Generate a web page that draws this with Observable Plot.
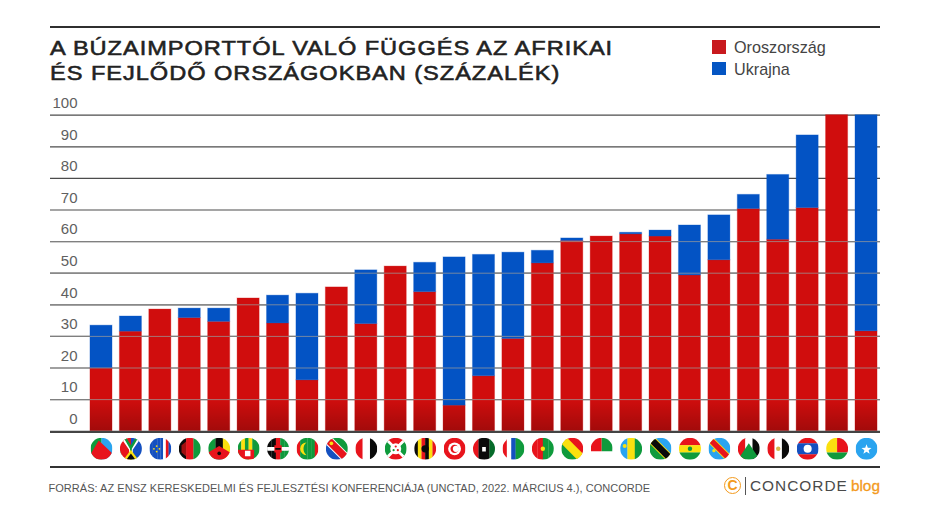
<!DOCTYPE html>
<html lang="hu">
<head>
<meta charset="utf-8">
<title>A búzaimporttól való függés</title>
<script src="https://cdn.jsdelivr.net/npm/d3@7"></script>
<script src="https://cdn.jsdelivr.net/npm/@observablehq/plot@0.6"></script>
<style>
  html,body{margin:0;background:#fff;overflow:hidden;}
  body{font-family:"Liberation Sans",Arial,sans-serif;}
  #page{position:relative;width:930px;height:510px;}
  #head{position:absolute;left:50px;top:26px;width:830px;height:64px;border-top:2.4px solid #2f2f2f;box-sizing:border-box;}
  #title{position:absolute;left:0;top:8px;margin:0;font-size:20.4px;line-height:24.7px;font-weight:400;-webkit-text-stroke:.55px #222;color:#222;letter-spacing:.82px;white-space:nowrap;transform:scaleX(1.158);transform-origin:left top;}
  .leg{position:absolute;left:661.5px;font-size:16.2px;color:#444;line-height:18px;white-space:nowrap;padding-left:22.5px;}
  .leg i{position:absolute;left:0;top:2px;width:14px;height:13.5px;}
  #chart{position:absolute;left:0;top:90px;}
  #chart svg{display:block;}
  #foot{position:absolute;left:50px;top:466px;width:830px;height:40px;border-top:2.2px solid #333;box-sizing:border-box;}
  #src{position:absolute;left:-1.5px;top:12.5px;font-size:11px;line-height:14px;letter-spacing:.03px;color:#555;white-space:nowrap;}
  #logo{position:absolute;right:0;top:8px;height:20px;line-height:20px;white-space:nowrap;}
  #mark{position:absolute;left:-156px;top:1px;width:15px;height:15px;border:1.8px solid #f39a1d;border-radius:50%;color:#f39a1d;font-size:14px;font-weight:700;line-height:15px;text-align:center;}
  #bar{position:absolute;left:-135px;top:1px;width:1px;height:18px;background:#555;}
  #brand{position:absolute;left:-130px;top:0;font-size:15.4px;color:#4a4a4a;letter-spacing:1px;}
  #blog{position:absolute;right:0;top:0;font-size:15.4px;color:#f39a1d;-webkit-text-stroke:.3px #f39a1d;}
</style>
</head>
<body>
<div id="page">
  <div id="head">
    <h1 id="title">A BÚZAIMPORTTÓL VALÓ FÜGGÉS AZ AFRIKAI<br>ÉS FEJLŐDŐ ORSZÁGOKBAN (SZÁZALÉK)</h1>
  </div>
  <div id="chart"></div>
  <div id="foot">
    <div id="src">FORRÁS: AZ ENSZ KERESKEDELMI ÉS FEJLESZTÉSI KONFERENCIÁJA (UNCTAD, 2022. MÁRCIUS 4.), CONCORDE</div>
    <div id="logo"><span id="mark">C</span><span id="bar"></span><span id="brand">CONCORDE</span><span id="blog">blog</span></div>
  </div>
</div>
<script>
const countries = ["Eritrea","Dél-Afrika","Zöld-foki-szk.","Malawi","Kelet-Timor","Benin","Kenya","Mauritánia","Namíbia","Jemen","Burundi","Uganda","Tunézia","Líbia","Gambia","Mozambik","Kongó","Madagaszkár","Ruanda","Tanzánia","Szenegál","KDK","Szudán","Egyiptom","Laosz","Bissau-Guinea","Szomália"];
const russia  = [19.9,31.5,38.5,35.8,34.6,42.0,34.1,16.1,45.5,33.9,52.1,44.0,8.1,17.4,29.2,53.1,60.2,61.6,62.3,61.6,49.3,54.1,70.3,60.6,70.6,100,31.6];
const ukraine = [13.5,4.8,0,3.0,4.2,0,8.8,27.4,0,17.0,0,9.3,46.9,38.4,27.3,4.0,0.8,0,0.5,1.9,15.8,14.2,4.5,20.5,23.0,0,68.4];
const yTicks = [0,10,20,30,40,50,60,70,80,90,100];
const seriesNames = ["Oroszország","Ukrajna"];
const seriesColors = ["#d00d0d","#0353c4"];

// Flag artwork, one fragment per country, on a 24x24 canvas.
const R="#e8141c",G="#0f9a3c",B="#1450c0",Y="#fbe00f",K="#0a0a0a",W="#ffffff",L="#2aa4ef";
const v=(...c)=>c.map((f,i)=>`<rect x="${i*24/c.length}" y="0" width="${24/c.length+.2}" height="24" fill="${f}"/>`).join("");
const h=(...c)=>c.map((f,i)=>`<rect x="0" y="${i*24/c.length}" width="24" height="${24/c.length+.2}" fill="${f}"/>`).join("");
const path=(d,f)=>`<path d="${d}" fill="${f}"/>`;
const disc=(x,y,r,f)=>`<circle cx="${x}" cy="${y}" r="${r}" fill="${f}"/>`;
const diag=(a,b,c,w,ws)=>path("M0 0H24V24Z",c)+path("M0 0V24H24Z",a)+`<path d="M-2 -2L26 26" stroke="${ws||b}" stroke-width="${w+2}"/><path d="M-2 -2L26 26" stroke="${b}" stroke-width="${w}"/>`;
const flagArt = [
  v(G,L)+path("M9 3L24 17V24H0V18Z",R),
  v(R,B)+path("M5 0L12 10L19 0H23L14 13V24H10V13L1 0Z",W)+path("M7 0L12 8L17 0H20L13 12V24H11V12L4 0Z",G)+path("M4 24L12 13L20 24Z",Y)+path("M7 24L12 17L17 24Z",K)+path("M0 14L4 24H0Z",G),
  v(B,B,B,B,B,W,R,B)+disc(8,9,1,Y)+disc(11,12,1,Y)+disc(8,15,1,Y)+disc(5,12,1,Y),
  v(K,R,G)+path("M3 8L8 4V20L3 16Z","#a01010"),
  v(G,K,Y)+path("M0 24V16L12 9L24 16V24Z",R)+disc(12,17,2,K),
  v(G,Y,G,Y,G,G)+path("M0 13H18V24H0Z",R)+path("M8 14H14V20H8Z",W),
  v(K,K,R,G,G)+path("M0 10H24V14H0Z",W)+path("M8 8H16V16H8Z",R)+path("M9 11H15V13H9Z",K),
  v(R,G,G,G,G,R)+path("M11 5A7 7 0 1 0 11 19A9 9 0 0 1 11 5Z",Y),
  diag(B,R,G,8,W)+disc(6,6,2,Y),
  v(R,W,K),
  path("M0 0H24L0 24H24Z",R)+path("M0 0L12 12L0 24Z",G)+path("M24 0L12 12L24 24Z",G)+`<path d="M0 0L24 24M24 0L0 24" stroke="${W}" stroke-width="3"/>`+disc(12,12,6,W)+disc(12,9.5,1.2,R)+disc(9.7,13.5,1.2,G)+disc(14.3,13.5,1.2,R),
  v(K,Y,R,K,Y,R)+disc(12,12,4,K),
  h(R)+disc(12,12,7,W)+disc(12,12,4.5,R)+disc(13.5,12,3.4,W),
  v(R,K,K,"#066b2a")+path("M10 10H14V15H10Z",W),
  v(R,W,B,G,G),
  v(R,R,G,G)+disc(12,12,2.4,Y),
  diag(G,Y,R,7),
  path("M0 0H12V15H0Z",R)+path("M12 0H24V15H12Z",G)+path("M0 15H24V24H0Z",W),
  v(L,Y,G)+disc(5,9,2.2,Y),
  diag(G,K,L,7,Y),
  h(R,Y,G)+disc(12,12,2.4,G),
  diag(L,R,L,6,Y)+disc(6,14,1.8,Y),
  path("M0 0H9V24H0Z",R)+path("M8 0H16V24H8Z",W)+path("M16 0H24V24H16Z",K)+path("M0 24L12 6L24 24Z",G),
  v(R,W,K)+disc(12,12,2.4,"#d8b84a"),
  h(R,B,B,R)+disc(12,12,4.4,W),
  path("M0 0H12V16H0Z",Y)+path("M12 0H24V16H12Z",R)+path("M0 16H24V24H0Z",G),
  h(L)+path("M12 7L13.4 10.8L17.5 11L14.3 13.5L15.4 17.4L12 15.2L8.6 17.4L9.7 13.5L6.5 11L10.6 10.8Z",W)
];
const flagSrc = art => "data:image/svg+xml," + encodeURIComponent(`<svg xmlns="http://www.w3.org/2000/svg" width="96" height="96" viewBox="0 0 24 24">${art}</svg>`);

const rows = countries.flatMap((c,i)=>[
  {country:c, series:seriesNames[0], value:russia[i]},
  {country:c, series:seriesNames[1], value:ukraine[i]}
]);
const flagRows = countries.map((c,i)=>({country:c, src:flagSrc(flagArt[i])}));

const shade = () => {
  const defs = d3.create("svg:defs");
  const g = defs.append("linearGradient").attr("id","shade").attr("x1",0).attr("x2",0).attr("y1",0).attr("y2",1);
  g.append("stop").attr("offset",0).attr("stop-color","#000").attr("stop-opacity",0);
  g.append("stop").attr("offset",1).attr("stop-color","#000").attr("stop-opacity",.22);
  return defs.node();
};

const chart = Plot.plot({
  width: 930, height: 380,
  marginTop: 24.7, marginBottom: 39.3, marginLeft: 50, marginRight: 50,
  style: {background:"#fff", fontFamily:'"Liberation Sans",Arial,sans-serif'},
  x: {domain:countries, range:[82.6,884.4], padding:.25, round:false, axis:null},
  y: {domain:[0,100], axis:null},
  color: {domain:seriesNames, range:seriesColors},
  marks: [
    shade,
    Plot.ruleY(yTicks.filter(d=>d>0), {stroke:"#4c4c4c", strokeWidth:1.2}),
    Plot.barY(rows, {x:"country", y:"value", fill:"series", order:seriesNames, stroke:"series", strokeOpacity:.3, strokeWidth:1}),
    Plot.barY(countries, {x:d=>d, y1:0, y2:10, fill:"url(#shade)"}),
    Plot.ruleY(yTicks.filter(d=>d>0 && d<=60), {stroke:"#9a9a9a", strokeOpacity:.75, strokeWidth:1}),
    Plot.axisY(yTicks, {anchor:"left", label:null, tickSize:0, tickPadding:-27, dy:-12, fontSize:15, fill:"#606060", tickFormat:d=>d}),
    Plot.ruleY([0], {stroke:"#444", strokeWidth:2.2, dy:.6}),
    Plot.image(flagRows, {x:"country", frameAnchor:"bottom", src:"src", r:11, dy:17.6, style:"filter:blur(.35px)"})
  ]
});
document.getElementById("chart").appendChild(chart);

// Legend, from the same series lists.
const head = document.getElementById("head");
seriesNames.forEach((n,i)=>{
  const d=document.createElement("div");
  d.className="leg"; d.style.top=(10+i*21.6)+"px";
  d.innerHTML=`<i style="background:${i?"#0455c3":"#c8191e"}"></i>${n}`;
  head.appendChild(d);
});
</script>
</body>
</html>
